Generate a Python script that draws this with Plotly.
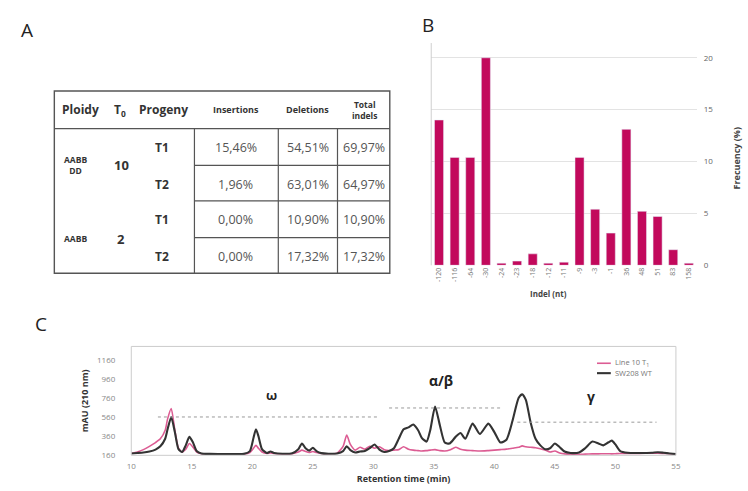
import plotly.graph_objects as go

W, H = 748, 491

# ---------------- Panel A: indel summary table ----------------
ploidy = ["AABB<br>DD", "AABB"]
t0_events = ["10", "2"]
progeny = ["T1", "T2", "T1", "T2"]
insertions = ["15,46%", "1,96%", "0,00%", "0,00%"]
deletions = ["54,51%", "63,01%", "10,90%", "17,32%"]
total_indels = ["69,97%", "64,97%", "10,90%", "17,32%"]
table_headers = ["Ploidy", "T<sub>0</sub>", "Progeny", "Insertions", "Deletions", "Total<br>indels"]

# ---------------- Panel B: indel size frequency ----------------
indel_sizes = ["-120", "-116", "-64", "-30", "-24", "-23", "-18", "-12", "-11",
               "-9", "-3", "-1", "36", "48", "51", "83", "158"]
indel_freq = [14.0, 10.4, 10.4, 20.0, 0.2, 0.4, 1.1, 0.2, 0.3,
              10.4, 5.4, 3.1, 13.1, 5.2, 4.7, 1.5, 0.2]
freq_ticks = [0, 5, 10, 15, 20]

# ---------------- Panel C: RP-HPLC gliadin profiles ----------------
ret_time = [10, 10.5, 11, 11.5, 12, 12.4, 12.8, 13.0, 13.3, 13.6, 13.9, 14.2, 14.5, 14.8,
            15.1, 15.4, 15.8, 16.5, 17.5, 18.5, 19.3, 19.8, 20.1, 20.3, 20.5, 20.8, 21.2,
            21.5, 21.8, 22.5, 23.3, 23.8, 24.1, 24.4, 24.7, 25.0, 25.3, 25.7, 26.3, 27.0,
            27.5, 27.8, 28.1, 28.5, 28.9, 29.3, 29.7, 30.1, 30.5, 30.9, 31.3, 31.7, 32.1,
            32.5, 32.9, 33.3, 33.7, 34.0, 34.4, 34.7, 35.1, 35.5, 35.9, 36.3, 36.8, 37.2,
            37.6, 38.2, 38.8, 39.5, 40.0, 40.5, 41.0, 41.5, 42.0, 42.3, 42.6, 43.0, 43.4,
            43.8, 44.2, 44.6, 45.0, 45.4, 45.8, 46.3, 47.0, 47.5, 48.1, 48.6, 49.0, 49.4,
            49.7, 50.0, 50.4, 51.0, 52.0, 53.0, 53.5, 54.0, 54.5, 55.0]
wt_mau = [175, 180, 185, 195, 215, 250, 330, 430, 560, 400, 220, 190, 260, 350,
          290, 200, 175, 170, 168, 168, 170, 200, 340, 430, 360, 220, 180,
          195, 180, 172, 178, 220, 280, 230, 205, 235, 200, 178, 172, 175,
          200, 250, 210, 185, 195, 200, 230, 270, 215, 190, 200, 230, 330,
          430, 450, 480, 420, 340, 300, 420, 670, 470, 290, 280, 350, 390,
          330, 490, 380, 490, 400, 290, 320, 520, 760, 800, 740, 500, 330,
          260, 220, 230, 280, 240, 195, 180, 185, 230, 300, 280, 260, 290,
          310, 270, 200, 182, 180, 182, 188, 182, 175, 168]
line10_mau = [175, 190, 215, 250, 290, 330, 420, 540, 650, 420, 230, 190, 220, 280,
              240, 190, 172, 168, 166, 166, 168, 185, 230, 260, 230, 190, 175,
              180, 175, 170, 172, 190, 210, 195, 185, 195, 185, 175, 172, 178,
              250, 370, 270, 210, 240, 220, 250, 230, 245, 215, 205, 210, 215,
              245, 220, 210, 205, 200, 205, 210, 215, 205, 200, 210, 240, 220,
              210, 205, 200, 205, 210, 215, 220, 230, 240, 255, 245, 240, 235,
              225, 210, 190, 200, 180, 170, 165, 165, 168, 170, 170, 172, 172,
              170, 172, 175, 175, 175, 178, 178, 175, 172, 168]
series_names = ["Line 10 T<sub>1</sub>", "SW208 WT"]
mau_ticks = [160, 360, 560, 760, 960, 1160]
time_ticks = [10, 15, 20, 25, 30, 35, 40, 45, 50, 55]
# gliadin fractions: (name, start, end, level of dashed guide, label time)
fractions = [("ω", 12.2, 30.5, 560, 21.6), ("α/β", 31.3, 40.6, 655, 35.6),
             ("γ", 41.9, 53.4, 505, 48.0)]

BAR = "#c2095c"
PINK = "#dc5c93"
DARK = "#333333"
FONT = "Open Sans"


def px(x):
    return x / W


def py(y):
    return 1 - y / H


fig = go.Figure()

# bars (panel B)
fig.add_trace(go.Bar(x=indel_sizes, y=indel_freq, marker_color=BAR, showlegend=False,
                     xaxis="x", yaxis="y"))

# chromatograms (panel C)
fig.add_trace(go.Scatter(x=ret_time, y=line10_mau, mode="lines", name=series_names[0],
                         line=dict(color=PINK, width=1.6, shape="spline", smoothing=0.6),
                         xaxis="x2", yaxis="y2", showlegend=False))
fig.add_trace(go.Scatter(x=ret_time, y=wt_mau, mode="lines", name=series_names[1],
                         line=dict(color=DARK, width=2.1, shape="spline", smoothing=0.6),
                         xaxis="x2", yaxis="y2", showlegend=False))

shapes = []
ann = []


def text(x, y, s, size=11, bold=False, color="#333", xanchor="center", **kw):
    if bold:
        s = "<b>" + s + "</b>"
    ann.append(dict(x=px(x), y=py(y), xref="paper", yref="paper", text=s, showarrow=False,
                    xanchor=xanchor, yanchor="middle",
                    font=dict(family=FONT, size=size, color=color), **kw))


def hline(x0, x1, y, color="#555", width=1.2):
    shapes.append(dict(type="line", xref="paper", yref="paper", x0=px(x0), x1=px(x1),
                       y0=py(y), y1=py(y), line=dict(color=color, width=width)))


def vline(x, y0, y1, color="#555", width=1.2):
    shapes.append(dict(type="line", xref="paper", yref="paper", x0=px(x), x1=px(x),
                       y0=py(y0), y1=py(y1), line=dict(color=color, width=width)))


# panel letters
text(22, 30, "A", size=19, color="#222")
text(429, 25, "B", size=19, color="#222")
text(36, 327, "C", size=19, color="#222")

# table frame
shapes.append(dict(type="rect", xref="paper", yref="paper", x0=px(50), x1=px(390),
                   y0=py(276), y1=py(92), line=dict(color="#555", width=1.4)))
hline(50, 390, 130)
for xv in (192, 277, 337):
    vline(xv, 130, 276)
for yv in (167, 203, 240):
    hline(192, 390, yv)

# table header
hdr_x = [77, 117, 161, 234, 307, 364]
hdr_size = [12, 12, 12, 9, 9, 8.5]
for hx, hs, ht in zip(hdr_x, hdr_size, table_headers):
    text(hx, 111, ht, size=hs, bold=True, color="#333")

# table body
row_y = [149, 186, 222, 259]
for i, ry in enumerate(row_y):
    text(159, ry, progeny[i], size=12, bold=True, color="#333")
    text(234, ry, insertions[i], size=12.5, color="#555")
    text(307, ry, deletions[i], size=12.5, color="#555")
    text(364, ry, total_indels[i], size=12.5, color="#555")
group_y = [167, 241]
for g, gy in enumerate(group_y):
    text(71, gy, ploidy[g], size=8.5, bold=True, color="#333")
    text(118, gy, t0_events[g], size=13, bold=True, color="#333")

# panel B extra labels
text(551, 297, "Indel (nt)", size=8, bold=True, color="#444")
text(741, 160, "Frecuency (%)", size=9, bold=True, color="#444", textangle=-90)
# left axis line of panel B
shapes.append(dict(type="line", xref="x domain", yref="y domain", x0=0, x1=0, y0=0, y1=1.03,
                   line=dict(color="#cfcfcf", width=1)))

# panel C fraction labels with dashed guides
lab_y = {"ω": 410, "α/β": 396, "γ": 412}
for name, t_start, t_end, lvl, t_lab in fractions:
    shapes.append(dict(type="line", xref="x2", yref="y2", x0=t_start, x1=t_end, y0=lvl, y1=lvl,
                       line=dict(color="#9a9a9a", width=1, dash="dot")))
    ann.append(dict(x=t_lab, xref="x2", y=py(lab_y[name]), yref="paper",
                    text="<b>" + name + "</b>", showarrow=False,
                    font=dict(family=FONT, size=14 if name != "ω" else 13, color="#222")))

# compact legend of panel C
leg_rows = [(367, PINK, 1.6, series_names[0]), (377, DARK, 2.1, series_names[1])]
for ly, lc, lw, ln in leg_rows:
    hline(600, 614, ly, color=lc, width=lw)
    text(616, ly, ln, size=7.5, color="#777", xanchor="left")

# frame of panel C
shapes.append(dict(type="rect", xref="x2 domain", yref="y2 domain", x0=0, x1=1, y0=0, y1=1,
                   line=dict(color="#cccccc", width=1)))

fig.update_layout(
    width=W, height=H, margin=dict(l=0, r=0, t=0, b=0),
    paper_bgcolor="white", plot_bgcolor="white",
    font=dict(family=FONT, color="#555"),
    bargap=0.42, showlegend=False,
    shapes=shapes, annotations=ann,
    xaxis=dict(domain=[px(432), px(701)], type="category", tickangle=-90,
               tickfont=dict(size=7, color="#777"), showgrid=False, ticks="",
               showline=False, zeroline=False, anchor="y"),
    yaxis=dict(domain=[py(268), py(50)], range=[0, 20.8], side="right", tickvals=freq_ticks,
               tickfont=dict(size=8, color="#666"), showgrid=True, gridcolor="#e3e3e3",
               gridwidth=1, zeroline=False, ticklabelstandoff=6, anchor="x"),
    xaxis2=dict(domain=[px(128), px(680)], range=[10, 55], tickvals=time_ticks,
                tickfont=dict(size=8, color="#888"), showgrid=False, zeroline=False,
                ticklabelstandoff=5,
                title=dict(text="<b>Retention time (min)</b>", font=dict(size=9, color="#333"),
                           standoff=5), anchor="y2"),
    yaxis2=dict(domain=[py(460), py(350)], range=[155, 1305], tickvals=mau_ticks,
                tickfont=dict(size=8, color="#888"), showgrid=False, zeroline=False,
                ticklabelstandoff=15,
                title=dict(text="<b>mAU (210 nm)</b>", font=dict(size=9, color="#333"),
                           standoff=6), anchor="x2"),
)

fig.write_html("out.html")
